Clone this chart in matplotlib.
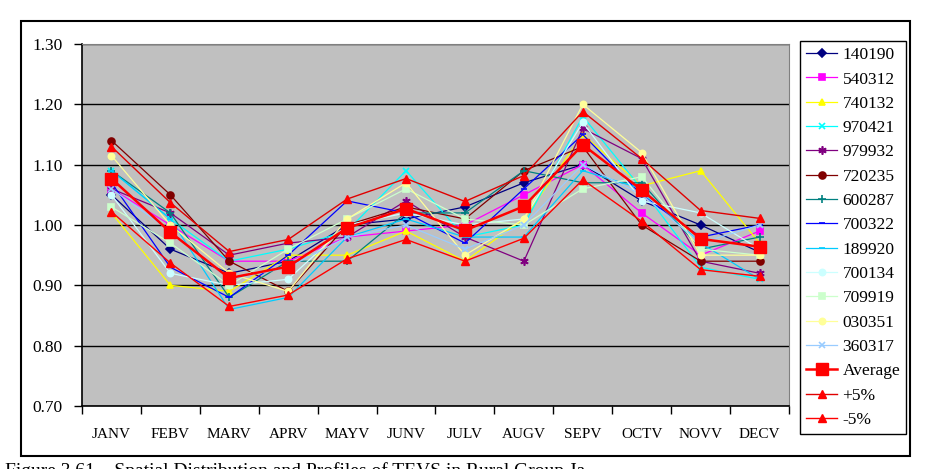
import matplotlib
matplotlib.use("Agg")
import matplotlib.pyplot as plt
from matplotlib.patches import Rectangle

months = ["JANV", "FEBV", "MARV", "APRV", "MAYV", "JUNV",
          "JULV", "AUGV", "SEPV", "OCTV", "NOVV", "DECV"]

s140190 = [1.05, 0.96, 0.92, 0.94, 1.00, 1.01, 1.03, 1.07, 1.10, 1.04, 1.00, 0.955]
s540312 = [1.06, 1.00, 0.94, 0.94, 0.98, 0.99, 1.00, 1.05, 1.10, 1.02, 0.95, 0.99]
s740132 = [1.02, 0.90, 0.89, 0.95, 0.95, 0.99, 0.94, 1.01, 1.15, 1.065, 1.09, 0.97]
s970421 = [1.09, 1.01, 0.94, 0.96, 0.99, 1.09, 0.98, 1.00, 1.18, 1.06, 0.93, 0.91]
s979932 = [1.06, 1.02, 0.95, 0.97, 0.98, 1.04, 0.98, 0.94, 1.16, 1.11, 0.94, 0.92]
s720235 = [1.14, 1.05, 0.94, 0.89, 1.00, 1.03, 1.01, 1.09, 1.13, 1.00, 0.94, 0.94]
s600287 = [1.09, 1.02, 0.88, 0.94, 0.94, 1.02, 1.02, 1.09, 1.07, 1.07, 0.96, 0.98]
s700322 = [1.07, 0.93, 0.88, 0.95, 1.04, 1.02, 0.97, 1.06, 1.15, 1.05, 0.98, 1.00]
s189920 = [1.09, 1.01, 0.86, 0.88, 0.98, 1.01, 0.98, 0.98, 1.09, 1.06, 0.97, 0.91]
s700134 = [1.05, 0.92, 0.90, 0.91, 1.00, 1.02, 1.00, 1.01, 1.17, 1.04, 1.02, 0.96]
s709919 = [1.03, 0.97, 0.90, 0.96, 1.01, 1.06, 1.01, 1.00, 1.06, 1.08, 0.96, 0.95]
s030351 = [1.115, 1.00, 0.92, 0.89, 1.01, 1.07, 0.95, 1.01, 1.20, 1.12, 0.95, 0.95]
s360317 = [1.06, 0.99, 0.91, 0.93, 0.98, 1.00, 0.96, 1.00, 1.10, 1.05, 0.97, 1.00]
average = [1.077, 0.988, 0.912, 0.931, 0.995, 1.027, 0.991, 1.031, 1.133, 1.058, 0.977, 0.964]
plus5 = [1.130, 1.037, 0.956, 0.976, 1.043, 1.077, 1.039, 1.082, 1.188, 1.110, 1.024, 1.011]
minus5 = [1.022, 0.937, 0.865, 0.884, 0.944, 0.976, 0.940, 0.978, 1.075, 1.006, 0.926, 0.915]

plt.rcParams["font.family"] = ["Liberation Serif", "DejaVu Serif"]

fig = plt.figure(figsize=(9.27, 4.69), dpi=100)
fig.patch.set_facecolor("white")

# outer chart frame
fig.patches.append(Rectangle((21 / 927, 1 - 456 / 469), 889 / 927, 435 / 469,
                             transform=fig.transFigure, fill=False,
                             edgecolor="black", linewidth=1.5))

ax = fig.add_axes([82 / 927, 1 - 406 / 469, 707 / 927, 362 / 469])
ax.set_facecolor("#C0C0C0")

x = list(range(len(months)))

series = [
    ("140190", s140190, "#000080", "D", 4),
    ("540312", s540312, "#FF00FF", "s", 5),
    ("740132", s740132, "#FFFF00", "^", 5),
    ("970421", s970421, "#00FFFF", "x", 5),
    ("979932", s979932, "#800080", (6, 2, 0), 6),
    ("720235", s720235, "#800000", "o", 5),
    ("600287", s600287, "#008080", "+", 6),
    ("700322", s700322, "#0000FF", "_", 5),
    ("189920", s189920, "#00CCFF", "_", 5),
    ("700134", s700134, "#CCFFFF", "o", 4.5),
    ("709919", s709919, "#CCFFCC", "s", 5),
    ("030351", s030351, "#FFFF99", "o", 4.5),
    ("360317", s360317, "#99CCFF", "x", 5),
]

for name, vals, col, mk, ms in series:
    ax.plot(x, vals, color=col, marker=mk, markersize=ms, linewidth=0.9,
            markeredgewidth=1.2, label=name, zorder=3)

ax.plot(x, average, color="#FF0000", marker="s", markersize=8, linewidth=1.8,
        label="Average", zorder=6)
ax.plot(x, plus5, color="#E00000", marker="^", markersize=6, linewidth=1.0,
        markerfacecolor="#FF0000", markeredgecolor="#FF0000",
        label="+5%", zorder=5)
ax.plot(x, minus5, color="#FF0000", marker="^", markersize=6, linewidth=1.0,
        label="-5%", zorder=5)

ax.set_xlim(-0.5, 11.5)
ax.set_ylim(0.70, 1.30)
ax.set_yticks([0.70, 0.80, 0.90, 1.00, 1.10, 1.20, 1.30])
ax.set_yticklabels(["%.2f" % v for v in ax.get_yticks()])
ax.yaxis.grid(True, color="black", linewidth=1.0)
ax.set_axisbelow(True)

# ticks between categories, labels at category centres
ax.set_xticks([i - 0.5 for i in range(13)])
ax.set_xticklabels([])
ax.set_xticks(x, minor=True)
ax.set_xticklabels(months, minor=True)
ax.tick_params(axis="x", which="major", direction="out", length=6, width=1)
ax.tick_params(axis="x", which="minor", length=0, pad=16, labelsize=11)
ax.tick_params(axis="y", direction="out", length=6, width=1, pad=8, labelsize=12.5)

for side in ["top", "right"]:
    ax.spines[side].set_color("#808080")
for side in ["left", "bottom"]:
    ax.spines[side].set_color("black")
    ax.spines[side].set_linewidth(1.2)

leg = fig.legend(loc="upper left", bbox_to_anchor=(800 / 927, 1 - 41 / 469),
                 borderaxespad=0, fontsize=12.5, labelspacing=0.47,
                 handlelength=1.8, handletextpad=0.3, borderpad=0.35,
                 fancybox=False, framealpha=1)
leg.get_frame().set_edgecolor("black")
leg.get_frame().set_linewidth(1.0)

fig.text(0.005, 1 - 462 / 469,
         "Figure 3.61    Spatial Distribution and Profiles of TEVS in Rural Group Ja",
         fontsize=14, va="top", ha="left")

fig.savefig("out.png", dpi=100)
